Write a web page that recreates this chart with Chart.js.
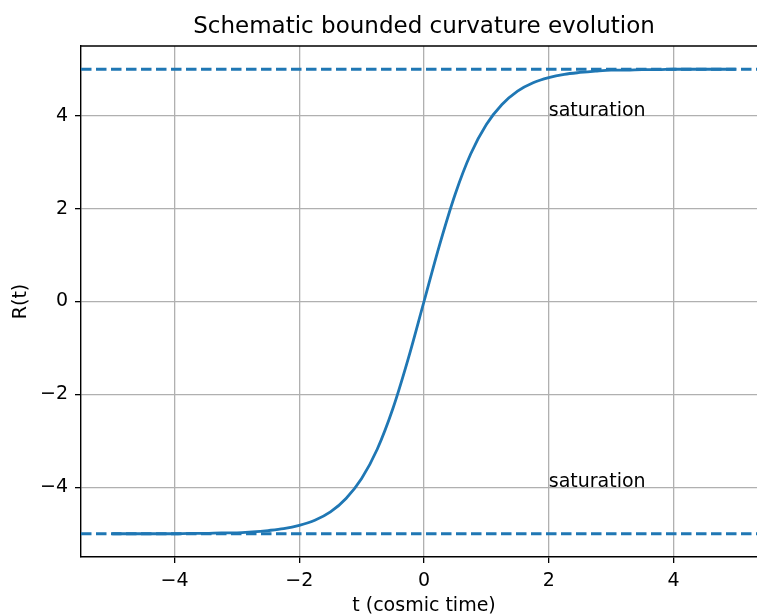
<!DOCTYPE html>
<html>
<head>
<meta charset="utf-8">
<script src="https://cdn.jsdelivr.net/npm/chart.js@4"></script>
<style>
html, body { margin: 0; padding: 0; overflow: hidden; background: #fff; }
#wrap { width: 790px; height: 615px; }
</style>
</head>
<body>
<div id="wrap"><canvas id="c" width="790" height="615"></canvas></div>
<script>
// ---- data ----
const tValues = [-5, -4.75, -4.5, -4.25, -4, -3.75, -3.5, -3.25, -3, -2.75, -2.5, -2.25, -2, -1.75, -1.5, -1.25, -1, -0.75, -0.5, -0.25,
                 0, 0.25, 0.5, 0.75, 1, 1.25, 1.5, 1.75, 2, 2.25, 2.5, 2.75, 3, 3.25, 3.5, 3.75, 4, 4.25, 4.5, 4.75, 5];
const rValues = [-5.00, -5.00, -5.00, -5.00, -5.00, -4.99, -4.99, -4.98, -4.98, -4.96, -4.93, -4.89, -4.82, -4.71, -4.53, -4.24, -3.81, -3.18, -2.31, -1.22,
                 0.00, 1.22, 2.31, 3.18, 3.81, 4.24, 4.53, 4.71, 4.82, 4.89, 4.93, 4.96, 4.98, 4.98, 4.99, 4.99, 5.00, 5.00, 5.00, 5.00, 5.00];
const boundLevels = [5, -5];
const xRange = [-5.5, 5.5];
const yRange = [-5.5, 5.5];
const xTicks = [-4, -2, 0, 2, 4];
const yTicks = [-4, -2, 0, 2, 4];
const annX = [2, 2];
const annY = [4, -4];
const annText = ['saturation', 'saturation'];
const titleText = 'Schematic bounded curvature evolution';
const xLabel = 't (cosmic time)';
const yLabel = 'R(t)';

const BLUE = '#1f77b4';
const FONT = '"DejaVu Sans", sans-serif';
const FS = 19;

const curve = tValues.map((t, i) => ({ x: t, y: rValues[i] }));
const datasets = [{
  data: curve,
  borderColor: BLUE,
  borderWidth: 2.8,
  pointRadius: 0,
  cubicInterpolationMode: 'monotone',
  fill: false,
  order: 2
}];
boundLevels.forEach(v => {
  datasets.push({
    data: [{ x: xRange[0], y: v }, { x: xRange[1], y: v }],
    borderColor: BLUE,
    borderWidth: 2.8,
    borderDash: [10.5, 4.5],
    pointRadius: 0,
    fill: false,
    order: 1
  });
});

const fmt = v => String(v).replace('-', '\u2212');

const decor = {
  id: 'decor',
  afterDatasetsDraw(chart) {
    const ctx = chart.ctx;
    const a = chart.chartArea;
    const xs = chart.scales.x, ys = chart.scales.y;
    ctx.save();
    // annotations
    ctx.fillStyle = '#000';
    ctx.font = FS + 'px ' + FONT;
    ctx.textAlign = 'left';
    ctx.textBaseline = 'alphabetic';
    annText.forEach((s, i) => {
      ctx.fillText(s, xs.getPixelForValue(annX[i]), ys.getPixelForValue(annY[i]));
    });
    // top / right spines
    ctx.strokeStyle = '#000';
    ctx.lineWidth = 1.4;
    ctx.beginPath();
    ctx.moveTo(a.left, a.top);
    ctx.lineTo(a.right, a.top);
    ctx.lineTo(a.right, a.bottom);
    ctx.stroke();
    // title
    ctx.font = '23px ' + FONT;
    ctx.textAlign = 'center';
    ctx.fillText(titleText, (a.left + a.right) / 2, 33);
    // x label
    ctx.font = FS + 'px ' + FONT;
    ctx.fillText(xLabel, (a.left + a.right) / 2, 611);
    // y label
    ctx.translate(26, (a.top + a.bottom) / 2);
    ctx.rotate(-Math.PI / 2);
    ctx.fillText(yLabel, 0, 0);
    ctx.restore();
  }
};

new Chart(document.getElementById('c'), {
  type: 'line',
  data: { datasets },
  options: {
    responsive: false,
    animation: false,
    devicePixelRatio: 1,
    layout: { padding: { left: 0, right: 23, top: 46, bottom: 0 } },
    plugins: { legend: { display: false }, tooltip: { enabled: false }, title: { display: false } },
    scales: {
      x: {
        type: 'linear',
        min: xRange[0], max: xRange[1],
        afterBuildTicks: s => { s.ticks = xTicks.map(v => ({ value: v })); },
        afterFit: s => { s.height = 58; },
        ticks: { color: '#000', font: { family: FONT, size: FS }, padding: 7, maxRotation: 0, callback: fmt },
        grid: { color: '#b0b0b0', lineWidth: 1.3, tickColor: '#000', tickLength: 6, tickWidth: 1.3 },
        border: { display: true, color: '#000', width: 1.4 }
      },
      y: {
        type: 'linear',
        min: yRange[0], max: yRange[1],
        afterBuildTicks: s => { s.ticks = yTicks.map(v => ({ value: v })); },
        afterFit: s => { s.width = 81; },
        ticks: { color: '#000', font: { family: FONT, size: FS }, padding: 7, callback: fmt },
        grid: { color: '#b0b0b0', lineWidth: 1.3, tickColor: '#000', tickLength: 6, tickWidth: 1.3 },
        border: { display: true, color: '#000', width: 1.4 }
      }
    }
  },
  plugins: [decor]
});
</script>
</body>
</html>
